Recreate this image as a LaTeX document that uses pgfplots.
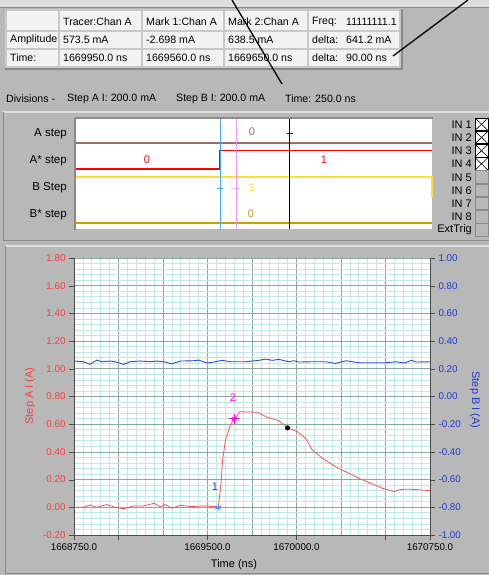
\documentclass[border=0pt]{standalone}
\usepackage{fontspec}
\setmainfont{Liberation Sans}
\usepackage{pgfplots}
\pgfplotsset{compat=1.18}

\definecolor{panel}{RGB}{184,184,184}
\definecolor{panellight}{RGB}{222,222,222}
\definecolor{paneldark}{RGB}{138,138,138}
\definecolor{cellbg}{RGB}{242,242,242}
\definecolor{cellline}{RGB}{200,200,200}
\definecolor{astep}{RGB}{150,110,110}
\definecolor{redstep}{RGB}{255,0,0}
\definecolor{bstep}{RGB}{255,222,50}
\definecolor{bstarstep}{RGB}{200,160,0}
\definecolor{cursorblue}{RGB}{70,165,255}
\definecolor{cursorpink}{RGB}{245,150,245}
\definecolor{tracered}{RGB}{255,80,80}
\definecolor{labred}{RGB}{255,60,60}
\definecolor{traceblue}{RGB}{30,80,225}
\definecolor{labblue}{RGB}{30,60,210}
\definecolor{marker}{RGB}{255,0,255}
\definecolor{majgrid}{RGB}{135,170,160}
\definecolor{mingrid}{RGB}{192,232,232}

% time is in ns after 1668750 ns
\pgfplotstableread{
t     a
0     0.000
53    0.000
90    0.017
128   0.000
184   0.020
231   0.000
278   -0.010
334   0.010
390   0.010
451   0.029
484   0.005
513   0.020
550   -0.007
597   0.014
663   0.005
728   0.010
790   0.005
810   -0.003
820   0.100
826   0.173
835   0.342
851   0.486
879   0.594
900   0.639
918   0.665
931   0.690
1029  0.686
1086  0.650
1151  0.625
1200  0.574
1255  0.546
1301  0.498
1339  0.414
1395  0.354
1470  0.293
1527  0.257
1602  0.209
1677  0.168
1734  0.137
1799  0.113
1820  0.125
1846  0.130
1902  0.130
1950  0.125
2000  0.120
}\stepA

\pgfplotstableread{
t     b
0     0.256
53    0.251
90    0.232
128   0.263
156   0.251
203   0.256
231   0.251
278   0.232
315   0.251
372   0.256
428   0.251
466   0.256
503   0.251
550   0.235
597   0.256
672   0.258
700   0.263
748   0.242
785   0.249
832   0.261
879   0.251
963   0.251
1038  0.261
1076  0.270
1114  0.261
1151  0.268
1207  0.251
1235  0.258
1264  0.249
1339  0.251
1414  0.251
1470  0.239
1527  0.258
1602  0.244
1752  0.244
1808  0.251
1855  0.242
1897  0.261
1921  0.249
2000  0.251
}\stepB

\begin{document}
\begin{tikzpicture}
\useasboundingbox (0,0) rectangle (489pt,-575pt);

\begin{scope}[x=1pt,y=-1pt]
  \fill[panel] (0,0) rectangle (489,575);
  \fill[panellight] (0,0) rectangle (489,7);
  \draw[paneldark] (0,7.5) -- (489,7.5);

  % cursor table
  \fill[paneldark] (5,9) rectangle (403,70);
  \fill[cellline] (5,9) rectangle (401,68);
  \foreach \xa/\xb in {7/58,60/141,143/223,225/307,309/399}
    \foreach \ya/\yb in {11/30.5,32.5/48,50/66}
      \fill[cellbg] (\xa,\ya) rectangle (\xb,\yb);

  \begin{scope}[every node/.style={anchor=west, inner sep=0pt, font=\fontsize{10.6}{12}\selectfont}]
    \node at (63,21.5) {Tracer:Chan A};
    \node at (146,21.5) {Mark 1:Chan A};
    \node at (228,21.5) {Mark 2:Chan A};
    \node at (312,21.5) {Freq:};
    \node at (346,21.5) {11111111.1};
    \node at (10,40) {Amplitude};
    \node at (63,40) {573.5 mA};
    \node at (146,40) {-2.698 mA};
    \node at (228,40) {638.5 mA};
    \node at (312,40) {delta:};
    \node at (346,40) {641.2 mA};
    \node at (10,57.5) {Time:};
    \node at (63,57.5) {1669950.0 ns};
    \node at (146,57.5) {1669560.0 ns};
    \node at (228,57.5) {1669650.0 ns};
    \node at (312,57.5) {delta:};
    \node at (346,57.5) {90.00 ns};
    \node at (6,99) {Divisions -};
    \node at (67,99) {Step A I: 200.0 mA};
    \node at (176,99) {Step B I: 200.0 mA};
    \node at (285,99) {Time: 250.0 ns};
  \end{scope}

  % panel edges
  \draw[panellight, line width=1.5pt] (3,112) -- (489,112);
  \draw[paneldark] (3,112) -- (3,240) -- (489,240);
  \draw[panellight, line width=1.5pt] (5,246) -- (489,246);
  \draw[paneldark] (5,246) -- (5,573) -- (489,573);

  % digital panel
  \fill[white] (76,119) rectangle (432,229);
  \draw[paneldark, line width=1.5pt] (75,118) -- (433,118);
  \draw[paneldark, line width=1.2pt] (75,118) -- (75,230);
  \begin{scope}[every node/.style={anchor=east, inner sep=0pt, font=\fontsize{11.5}{13}\selectfont}]
    \node at (67,134) {A step};
    \node at (67,161) {A* step};
    \node at (67,188) {B Step};
    \node at (67,215) {B* step};
  \end{scope}

  % input check boxes
  \foreach \i/\t in {0/IN 1,1/IN 2,2/IN 3,3/IN 4,4/IN 5,5/IN 6,6/IN 7,7/IN 8,8/ExtTrig}
    \node[anchor=east, inner sep=0pt, font=\fontsize{11}{13}\selectfont] at (472,124.5+13.2*\i) {\t};
  \foreach \i in {0,...,3} {
    \fill[white] (475,118+13.2*\i) rectangle (488,130.5+13.2*\i);
    \draw[black, line width=0.7pt] (475,118+13.2*\i) rectangle (488,130.5+13.2*\i);
    \draw[black, line width=0.6pt] (475,118+13.2*\i) -- (488,130.5+13.2*\i)
      (475,130.5+13.2*\i) -- (488,118+13.2*\i);
  }
  \foreach \i in {4,...,8} {
    \draw[paneldark, line width=0.7pt] (475,118+13.2*\i) rectangle (488,130.5+13.2*\i);
  }
\end{scope}

% digital traces
\begin{axis}[
  at={(76pt,-229pt)}, anchor=south west,
  width=356pt, height=110pt, scale only axis,
  xmin=0, xmax=2000, ymin=0, ymax=110,
  hide axis, clip=false,
]
  \addplot[astep, line width=1.6pt] coordinates {(0,86) (2000,86)};
  \addplot[redstep, line width=2pt] coordinates {(0,60) (810,60) (810,79)};
  \addplot[redstep, line width=0.9pt] coordinates {(810,79) (2000,79)};
  \addplot[bstep, line width=1.2pt] coordinates {(0,52) (2000,52) (2000,32)};
  \addplot[bstarstep, line width=1.8pt] coordinates {(0,6) (2000,6)};
  \addplot[cursorblue, line width=1pt] coordinates {(810,0) (810,110)};
  \addplot[cursorpink, line width=1pt] coordinates {(900,0) (900,110)};
  \addplot[black, line width=1pt] coordinates {(1200,0) (1200,110)};
  \addplot[black, line width=0.8pt] coordinates {(1183,96) (1217,96)};
  \addplot[cursorblue, line width=0.8pt] coordinates {(793,41) (827,41)};
  \addplot[cursorpink, line width=0.8pt] coordinates {(883,41) (917,41)};
  \begin{scope}[every node/.style={font=\fontsize{11}{13}\selectfont}]
    \node[text=astep] at (axis cs:989,97) {0};
    \node[text=redstep] at (axis cs:399,69) {0};
    \node[text=redstep] at (axis cs:1393,69) {1};
    \node[text=bstep] at (axis cs:989,41) {1};
    \node[text=bstarstep] at (axis cs:983,15) {0};
  \end{scope}
\end{axis}

% analog traces, left axis
\begin{axis}[
  at={(74pt,-535pt)}, anchor=south west,
  width=356pt, height=277pt, scale only axis,
  xmin=0, xmax=2000, ymin=-0.2, ymax=1.8,
  axis x line*=bottom, axis y line*=left,
  axis line style={gray!60!black},
  axis background/.style={fill=white},
  xtick={0,250,...,2000}, xticklabels={},
  major x tick style={draw=none},
  minor x tick num=4, minor y tick num=4,
  minor tick style={draw=none},
  extra x ticks={0,250,750,1250,1750,2000},
  extra x tick labels={1668750.0,,1669500.0,1670000.0,,1670750.0},
  extra x tick style={grid=none, major x tick style={draw=gray!60!black}},
  ytick={-0.2,0,0.2,0.4,0.6,0.8,1,1.2,1.4,1.6,1.8},
  yticklabels={-0.20,0.00,0.20,0.40,0.60,0.80,1.00,1.20,1.40,1.60,1.80},
  yticklabel style={text=labred},
  grid=both,
  major grid style={majgrid, line width=0.8pt},
  minor grid style={mingrid, line width=0.7pt},
  tick align=outside, major tick length=5pt,
  tick style={gray!60!black},
  tick label style={font=\fontsize{9.8}{12}\selectfont},
]
  \addplot[tracered, line width=0.8pt] table[x=t, y=a] {\stepA};
  \addplot[only marks, mark=asterisk, mark size=3.5pt, color=traceblue!70!white, line width=0.8pt] coordinates {(810,-0.0027)};
  \addplot[only marks, mark=+, mark size=5pt, color=marker, line width=0.9pt] coordinates {(900,0.6385)};
  \addplot[only marks, mark=o, mark size=2pt, color=marker, line width=0.8pt] coordinates {(900,0.6385)};
  \addplot[only marks, mark=*, mark size=2.3pt, color=black] coordinates {(1200,0.5735)};
  \node[text=labblue, font=\fontsize{11}{13}\selectfont] at (axis cs:792,0.15) {1};
  \node[text=marker, font=\fontsize{11}{13}\selectfont] at (axis cs:893,0.79) {2};
\end{axis}

% analog traces, right axis
\begin{axis}[
  at={(74pt,-535pt)}, anchor=south west,
  width=356pt, height=277pt, scale only axis,
  xmin=0, xmax=2000, ymin=-1, ymax=1,
  axis x line=none, axis y line*=right,
  axis line style={gray!60!black},
  ytick={-1,-0.8,-0.6,-0.4,-0.2,0,0.2,0.4,0.6,0.8,1},
  yticklabels={-1.00,-0.80,-0.60,-0.40,-0.20,0.00,0.20,0.40,0.60,0.80,1.00},
  yticklabel style={text=labblue},
  tick align=outside, major tick length=5pt,
  tick style={gray!60!black},
  tick label style={font=\fontsize{9.8}{12}\selectfont},
]
  \addplot[traceblue, line width=0.9pt] table[x=t, y=b] {\stepB};
\end{axis}

\begin{scope}[x=1pt,y=-1pt]
  \node[rotate=90, text=labred, font=\fontsize{11}{13}\selectfont] at (30,396) {Step A I (A)};
  \node[rotate=-90, text=labblue, font=\fontsize{11}{13}\selectfont] at (475,400) {Step B I (A)};
  \node[font=\fontsize{11}{13}\selectfont] at (234,565) {Time (ns)};
  \draw[black, line width=1.3pt] (232,0) -- (282,84);
  \draw[black, line width=1.3pt] (468,0) -- (393,56);
\end{scope}
\end{tikzpicture}
\end{document}
